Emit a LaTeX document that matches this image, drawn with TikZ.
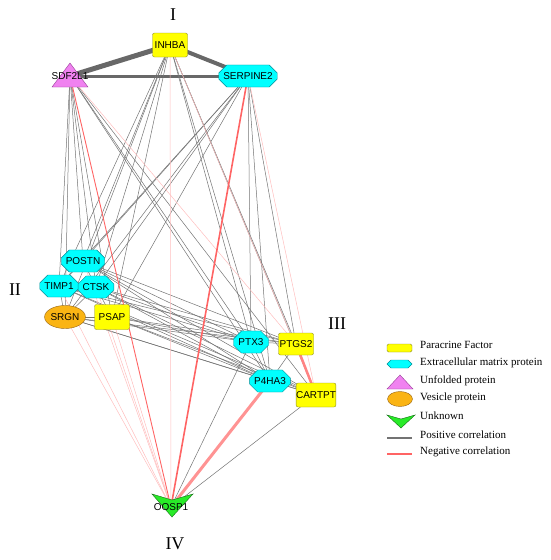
\documentclass[tikz,border=0pt]{standalone}
\usepackage{fontspec}
\setmainfont{Liberation Serif}
\setsansfont{Liberation Sans}
\usepackage{tikz}
\usetikzlibrary{positioning,shapes.geometric,shapes.misc,backgrounds}
\definecolor{factyel}{RGB}{255,255,0}
\definecolor{factedge}{RGB}{140,140,40}
\definecolor{ecmcyan}{RGB}{0,255,255}
\definecolor{ecmedge}{RGB}{0,140,150}
\definecolor{unfviolet}{RGB}{240,130,240}
\definecolor{unfedge}{RGB}{150,60,150}
\definecolor{vesorange}{RGB}{250,180,20}
\definecolor{vesedge}{RGB}{150,100,20}
\definecolor{unkgreen}{RGB}{40,235,40}
\definecolor{unkedge}{RGB}{20,110,20}
\definecolor{posgray}{RGB}{115,115,115}
\definecolor{negred}{RGB}{255,100,100}
\definecolor{negpink}{RGB}{255,190,190}

\begin{document}
\begin{tikzpicture}[x=1pt,y=-1pt,
  lbl/.style={font=\sffamily\fontsize{10}{12}\selectfont, inner sep=0pt},
  factor/.style={lbl, draw=factedge, fill=factyel, rounded corners=2pt, minimum width=35pt, minimum height=24pt},
  ecm/.style={lbl, draw=ecmedge, fill=ecmcyan, chamfered rectangle, chamfered rectangle xsep=4pt, chamfered rectangle ysep=4pt, inner xsep=0.5pt, inner ysep=3.5pt, minimum width=35pt, minimum height=22pt},
  vesicle/.style={lbl, draw=vesedge, fill=vesorange, ellipse, minimum width=36pt, minimum height=23pt},
  posedge/.style={posgray, line width=0.5pt},
  negedge/.style={negred, line width=0.9pt},
  negfaint/.style={negpink, line width=0.5pt},
  roman/.style={font=\fontsize{18}{20}\selectfont, inner sep=0pt},
  legtext/.style={anchor=west, font=\fontsize{11}{13}\selectfont, inner sep=0pt}]
  \useasboundingbox (0,0) rectangle (550,560);

  % group I
  \node[factor] (inhba) at (170,45) {INHBA};
  \filldraw[fill=unfviolet, draw=unfedge] (70,63) -- (88,87) -- (52,87) -- cycle;
  \node[lbl] (sdf) at (70,76) {SDF2L1};
  \node[ecm] (serp) at (248,76) {SERPINE2};
  % group II
  \node[ecm] (postn) at (83,261) {POSTN};
  \node[ecm] (timp) at (59,286) {TIMP1};
  \node[ecm] (ctsk) at (96,287) {CTSK};
  \node[vesicle] (srgn) at (65,317) {SRGN};
  \node[factor, minimum height=25pt] (psap) at (112,317) {PSAP};
  % group III
  \node[ecm] (ptx) at (251,342) {PTX3};
  \node[factor, minimum height=22pt] (ptgs) at (296,344) {PTGS2};
  \node[ecm] (phas) at (270,381) {P4HA3};
  \node[factor] (cart) at (316,395) {CARTPT};
  % group IV
  \filldraw[fill=unkgreen, draw=unkedge] (152,494) -- (172,500) -- (193,494) -- (172,517) -- cycle;
  \node[lbl] (oosp) at (171,507) {OOSP1};

  \begin{scope}[on background layer]
    \draw[posgray!90!black, line width=5pt] (inhba.center) -- (sdf.center);
    \draw[posgray!90!black, line width=4pt] (inhba.center) -- (serp.center);
    \draw[posgray!90!black, line width=3pt] (sdf.center) -- (serp.center);
    \foreach \a/\b in {sdf/postn, sdf/timp, sdf/ctsk, sdf/srgn, sdf/psap, sdf/ptx, sdf/phas, sdf/cart,
      inhba/postn, inhba/timp, inhba/ctsk, inhba/srgn, inhba/psap, inhba/ptx, inhba/phas, inhba/ptgs, inhba/cart,
      serp/postn, serp/timp, serp/ctsk, serp/srgn, serp/psap, serp/ptx, serp/phas, serp/ptgs,
      postn/ptx, postn/ptgs, postn/phas, postn/cart, timp/ptx, timp/ptgs, timp/phas, timp/cart,
      ctsk/ptx, ctsk/ptgs, ctsk/phas, ctsk/cart, srgn/ptx, srgn/ptgs, srgn/phas, srgn/cart,
      psap/ptx, psap/ptgs, psap/phas, psap/cart,
      postn/timp, postn/ctsk, timp/ctsk, timp/srgn, ctsk/psap, srgn/psap, ctsk/srgn,
      ptx/ptgs, ptx/phas, phas/cart, ptgs/phas, ptx/oosp, cart/oosp}{
      \draw[posedge] (\a.center) -- (\b.center);
    }
    \foreach \a/\b in {inhba/oosp, serp/cart, sdf/ptgs, inhba/cart, srgn/oosp, timp/oosp,
      postn/oosp, ctsk/oosp, psap/oosp}{
      \draw[negfaint] (\a.center) -- (\b.center);
    }
    \draw[negedge] (sdf.center) -- (oosp.center);
    \draw[negedge, line width=1.6pt] (serp.center) -- (oosp.center);
    \draw[negedge, negred!70, line width=3pt] (phas.center) -- (oosp.center);
    \draw[negedge, negred!80, line width=2.5pt] (ptgs.center) -- (cart.center);
  \end{scope}

  \node[roman] (r1) at (173,15) {I};
  \node[roman] (r2) at (15,290) {II};
  \node[roman] (r3) at (337,324) {III};
  \node[roman] (r4) at (175,544) {IV};

  % legend
  \filldraw[fill=factyel, draw=factedge, rounded corners=1.5pt] (387,344) rectangle (412,352);
  \filldraw[fill=ecmcyan, draw=ecmedge] (387,364) -- (391,360) -- (408,360) -- (412,364) -- (408,368) -- (391,368) -- cycle;
  \filldraw[fill=unfviolet, draw=unfedge] (400,375) -- (413,389) -- (387,389) -- cycle;
  \filldraw[fill=vesorange, draw=vesedge] (400,399) ellipse [x radius=12.5, y radius=7.5];
  \filldraw[fill=unkgreen, draw=unkedge] (387,415) -- (401,419) -- (415,415) -- (401,428) -- cycle;
  \draw[posgray, line width=2pt] (387,437.5) -- (412,437.5);
  \draw[negred, line width=2pt] (387,454) -- (412,454);
  \node[legtext] (l1) at (420,345) {Paracrine Factor};
  \node[legtext] (l2) at (420,362.5) {Extracellular matrix protein};
  \node[legtext] (l3) at (420,380.5) {Unfolded protein};
  \node[legtext] (l4) at (420,398) {Vesicle protein};
  \node[legtext] (l5) at (420,416) {Unknown};
  \node[legtext] (l6) at (420,435) {Positive correlation};
  \node[legtext] (l7) at (420,452) {Negative correlation};
\end{tikzpicture}
\end{document}
